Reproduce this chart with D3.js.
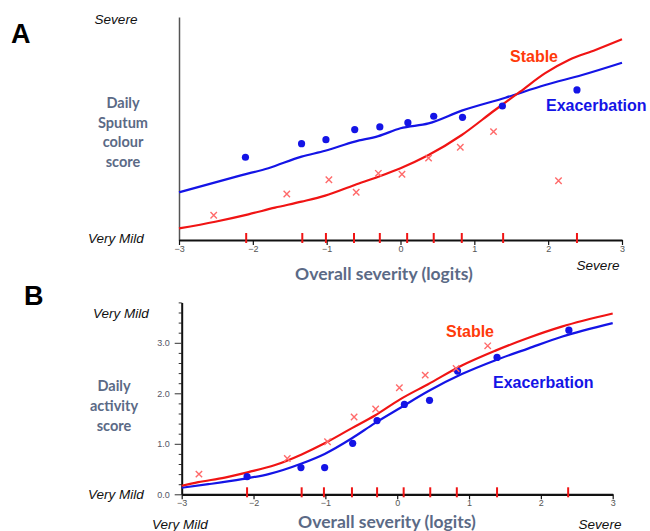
<!DOCTYPE html>
<html><head><meta charset="utf-8">
<script src="https://cdn.jsdelivr.net/npm/d3@7"></script>
<style>body{margin:0;background:#fff}svg{display:block}</style>
</head><body>
<svg id="c" width="650" height="531"></svg>
<script>
// ---------- Panel A: Daily sputum colour score (relative scale 0..1) ----------
const xTicks = [-3, -2, -1, 0, 1, 2, 3];
const itemLogitsA = [-2.09, -1.33, -1.01, -0.63, -0.28, 0.09, 0.45, 0.83, 1.39, 2.39];

const exacPtsAx = [-2.10, -1.34, -1.01, -0.62, -0.28, 0.10, 0.45, 0.84, 1.38, 2.39];
const exacPtsAy = [0.371, 0.432, 0.450, 0.495, 0.507, 0.526, 0.555, 0.550, 0.601, 0.673];
const stabPtsAx = [-2.53, -1.54, -0.97, -0.60, -0.30, 0.02, 0.38, 0.81, 1.26, 2.14];
const stabPtsAy = [0.111, 0.206, 0.270, 0.214, 0.299, 0.295, 0.367, 0.416, 0.486, 0.266];

const exacLineAx = [-3.0, -2.15, -1.79, -1.34, -1.02, -0.62, -0.30, 0.0, 0.38, 0.83, 1.42, 1.96, 2.46, 3.0];
const exacLineAy = [0.214, 0.291, 0.322, 0.374, 0.400, 0.441, 0.466, 0.501, 0.523, 0.580, 0.638, 0.695, 0.740, 0.795];
const stabLineAx = [-3.0, -2.51, -2.06, -1.70, -1.34, -1.02, -0.62, -0.30, 0.0, 0.38, 0.83, 1.28, 1.62, 1.96, 2.28, 2.64, 3.0];
const stabLineAy = [0.052, 0.082, 0.115, 0.145, 0.172, 0.199, 0.247, 0.284, 0.322, 0.381, 0.471, 0.583, 0.665, 0.748, 0.807, 0.852, 0.900];

// ---------- Panel B: Daily activity score ----------
const itemLogitsB = [-2.09, -1.33, -1.02, -0.63, -0.28, 0.09, 0.46, 0.83, 1.39, 2.38];
const yTicksB = [0, 1, 2, 3];

const exacPtsBx = [-2.09, -1.34, -1.01, -0.62, -0.28, 0.10, 0.45, 0.84, 1.39, 2.39];
const exacPtsBy = [0.35, 0.53, 0.53, 1.01, 1.46, 1.78, 1.86, 2.44, 2.71, 3.25];
const stabPtsBx = [-2.76, -1.53, -0.97, -0.60, -0.30, 0.03, 0.39, 0.82, 1.26];
const stabPtsBy = [0.40, 0.71, 1.04, 1.53, 1.69, 2.11, 2.36, 2.49, 2.94];

const exacLineBx = [-3.0, -2.63, -2.16, -1.79, -1.33, -1.01, -0.63, -0.31, 0.04, 0.43, 0.90, 1.36, 1.83, 2.29, 3.0];
const exacLineBy = [0.13, 0.20, 0.30, 0.40, 0.61, 0.80, 1.11, 1.41, 1.71, 2.04, 2.38, 2.65, 2.89, 3.12, 3.39];
const stabLineBx = [-3.0, -2.77, -2.40, -2.07, -1.70, -1.33, -1.01, -0.63, -0.31, 0.04, 0.43, 0.90, 1.36, 1.83, 2.29, 3.0];
const stabLineBy = [0.17, 0.24, 0.33, 0.44, 0.58, 0.79, 1.01, 1.31, 1.56, 1.88, 2.18, 2.55, 2.84, 3.10, 3.32, 3.58];

const svg = d3.select("#c");
const BLUE = "#1414e6", RED = "#f01414", XRED = "#ff6a6a";
const TITLE = "#5b6a86";
const zip = (a, b) => a.map((v, i) => [v, b[i]]);

function panel(o) {
  const g = svg.append("g");
  const x = d3.scaleLinear().domain([-3, 3]).range(o.xr);
  const y = d3.scaleLinear().domain(o.yd).range(o.yr);

  // y axis
  if (o.yMajor) {
    const minor = d3.range(0, 3.81, 0.2).filter(v => Math.abs(v - Math.round(v)) > 1e-6);
    g.append("g").attr("transform", `translate(${o.xr[0]},0)`)
      .call(d3.axisLeft(y).tickValues(minor).tickSize(3).tickFormat("").tickSizeOuter(0))
      .call(s => s.select(".domain").remove())
      .selectAll("line").attr("stroke", "#333");
    const ya = g.append("g").attr("transform", `translate(${o.xr[0]},0)`)
      .call(d3.axisLeft(y).tickValues(o.yMajor).tickSize(7).tickFormat(d3.format(".1f")).tickSizeOuter(0));
    ya.select(".domain").attr("stroke", "#111").attr("stroke-width", 2);
    ya.selectAll(".tick line").attr("stroke", "#333");
    ya.selectAll("text").attr("font-family", "Liberation Sans, Arial").attr("font-size", 9).attr("fill", "#556").attr("dx", -2);
  } else {
    g.append("g").attr("transform", `translate(${o.xr[0]},0)`)
      .call(d3.axisLeft(y).tickValues([]).tickSizeOuter(0))
      .select(".domain").attr("stroke", "#555").attr("stroke-width", 1.5);
  }

  // x axis
  const xa = g.append("g").attr("transform", `translate(0,${o.yr[0]})`)
    .call(d3.axisBottom(x).tickValues(xTicks).tickSize(5).tickSizeOuter(0).tickFormat(d3.format("d")));
  xa.select(".domain").attr("stroke", "#111").attr("stroke-width", 2.2);
  xa.selectAll(".tick line").attr("stroke", "#111").attr("stroke-width", 1.2);
  xa.selectAll("text").attr("font-family", "Liberation Sans, Arial").attr("font-size", 9).attr("fill", "#555").attr("dy", "0.45em");

  // item location ticks
  g.selectAll(".itm").data(o.items).join("line")
    .attr("x1", d => x(d)).attr("x2", d => x(d))
    .attr("y1", o.yr[0] - 7).attr("y2", o.yr[0] + 3)
    .attr("stroke", RED).attr("stroke-width", 2);

  const line = d3.line().x(d => x(d[0])).y(d => y(d[1])).curve(d3.curveMonotoneX);
  g.append("path").datum(zip(o.exLx, o.exLy)).attr("d", line)
    .attr("fill", "none").attr("stroke", BLUE).attr("stroke-width", 2.2);
  g.append("path").datum(zip(o.stLx, o.stLy)).attr("d", line)
    .attr("fill", "none").attr("stroke", RED).attr("stroke-width", 2.2);

  g.selectAll(".dot").data(zip(o.exPx, o.exPy)).join("circle")
    .attr("cx", d => x(d[0])).attr("cy", d => y(d[1])).attr("r", 3.6).attr("fill", BLUE);
  g.selectAll(".xm").data(zip(o.stPx, o.stPy)).join("path")
    .attr("d", d => { const cx = x(d[0]), cy = y(d[1]), s = 3.2;
      return `M${cx - s},${cy - s}L${cx + s},${cy + s}M${cx - s},${cy + s}L${cx + s},${cy - s}`; })
    .attr("stroke", XRED).attr("stroke-width", 1.4).attr("fill", "none");

  // series labels
  g.append("text").attr("x", o.stLab[0]).attr("y", o.stLab[1]).text("Stable")
    .attr("font-family", "Liberation Sans, Arial").attr("font-weight", "bold").attr("font-size", 16).attr("fill", "#ff3a0a");
  g.append("text").attr("x", o.exLab[0]).attr("y", o.exLab[1]).text("Exacerbation")
    .attr("font-family", "Liberation Sans, Arial").attr("font-weight", "bold").attr("font-size", 16).attr("fill", BLUE);
  return g;
}

panel({xr: [179, 622], yd: [0, 1], yr: [240, 17], items: itemLogitsA,
  exLx: exacLineAx, exLy: exacLineAy, stLx: stabLineAx, stLy: stabLineAy,
  exPx: exacPtsAx, exPy: exacPtsAy, stPx: stabPtsAx, stPy: stabPtsAy,
  stLab: [510, 62], exLab: [546, 111]});

panel({xr: [181.7, 612.7], yd: [0, 3.8], yr: [494.3, 302.4], items: itemLogitsB, yMajor: yTicksB,
  exLx: exacLineBx, exLy: exacLineBy, stLx: stabLineBx, stLy: stabLineBy,
  exPx: exacPtsBx, exPy: exacPtsBy, stPx: stabPtsBx, stPy: stabPtsBy,
  stLab: [446, 337], exLab: [493, 388]});

// text labels
function t(x, y, s, opts) {
  const e = svg.append("text").attr("x", x).attr("y", y).text(s)
    .attr("font-family", opts.ff || "Liberation Sans, Arial")
    .attr("font-size", opts.fs || 13.5).attr("fill", opts.fill || "#111")
    .attr("text-anchor", opts.anchor || "start");
  if (opts.it) e.attr("font-style", "italic");
  if (opts.b) e.attr("font-weight", "bold");
  return e;
}
const TF = "Lato, 'Open Sans', sans-serif";
t(11, 43, "A", {fs: 27, b: true, fill: "#000"});
t(24, 305, "B", {fs: 27, b: true, fill: "#000"});

t(116, 24, "Severe", {it: true, anchor: "middle"});
t(116, 243, "Very Mild", {it: true, anchor: "middle"});
["Daily", "Sputum", "colour", "score"].forEach((s, i) =>
  t(123, 108 + i * 19.7, s, {ff: TF, fs: 14.5, b: true, fill: TITLE, anchor: "middle"}));
t(384, 280, "Overall severity (logits)", {ff: TF, fs: 17.5, b: true, fill: TITLE, anchor: "middle"});
t(598, 270, "Severe", {it: true, anchor: "middle"});

t(121, 318, "Very Mild", {it: true, anchor: "middle"});
t(116, 499, "Very Mild", {it: true, anchor: "middle"});
["Daily", "activity", "score"].forEach((s, i) =>
  t(114, 391 + i * 20, s, {ff: TF, fs: 14.5, b: true, fill: TITLE, anchor: "middle"}));
t(387, 528, "Overall severity (logits)", {ff: TF, fs: 17.5, b: true, fill: TITLE, anchor: "middle"});
t(180, 529, "Very Mild", {it: true, anchor: "middle"});
t(600, 529, "Severe", {it: true, anchor: "middle"});
</script>
</body></html>
